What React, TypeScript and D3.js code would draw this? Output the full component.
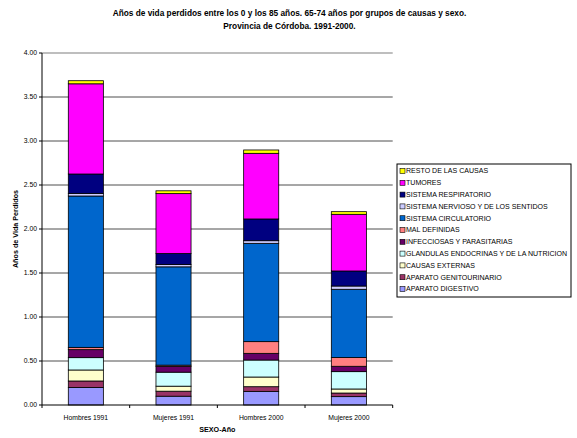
import React from 'react'
import * as d3 from 'd3'

// --- data ---
const categories = ['Hombres 1991', 'Mujeres 1991', 'Hombres 2000', 'Mujeres 2000']

// stacking order, bottom to top
const causes = [
  'APARATO DIGESTIVO',
  'APARATO GENITOURINARIO',
  'CAUSAS EXTERNAS',
  'GLANDULAS ENDOCRINAS Y DE LA NUTRICION',
  'INFECCIOSAS Y PARASITARIAS',
  'MAL DEFINIDAS',
  'SISTEMA CIRCULATORIO',
  'SISTEMA NERVIOSO Y DE LOS SENTIDOS',
  'SISTEMA RESPIRATORIO',
  'TUMORES',
  'RESTO DE LAS CAUSAS',
]

const colors = [
  '#9999FF', '#993366', '#FFFFCC', '#CCFFFF', '#660066', '#FF8080',
  '#0066CC', '#CCCCFF', '#000080', '#FF00FF', '#FFFF00',
]

const digestivo = [0.2, 0.1, 0.155, 0.095]
const genitourinario = [0.073, 0.057, 0.053, 0.041]
const externas = [0.125, 0.057, 0.11, 0.046]
const glandulas = [0.14, 0.159, 0.193, 0.197]
const infecciosas = [0.091, 0.065, 0.076, 0.061]
const malDefinidas = [0.026, 0.015, 0.133, 0.1]
const circulatorio = [1.72, 1.117, 1.117, 0.775]
const nervioso = [0.03, 0.026, 0.03, 0.037]
const respiratorio = [0.22, 0.126, 0.247, 0.171]
const tumores = [1.025, 0.68, 0.746, 0.644]
const resto = [0.035, 0.032, 0.038, 0.03]

const seriesValues = [
  digestivo, genitourinario, externas, glandulas, infecciosas, malDefinidas,
  circulatorio, nervioso, respiratorio, tumores, resto,
]

const yTicks = [0, 0.5, 1, 1.5, 2, 2.5, 3, 3.5, 4]

const FONT = '"Liberation Sans", Arial, sans-serif'

export default function App() {
  const plot = { left: 42, right: 392.7, top: 53, bottom: 405 }

  const x = d3.scaleBand<string>()
    .domain(categories)
    .range([plot.left, plot.right])
    .paddingInner(0.6)
    .paddingOuter(0.3)

  const y = d3.scaleLinear().domain([0, 4]).range([plot.bottom, plot.top])

  const rows = categories.map((c, i) => {
    const row: any = { cat: c }
    causes.forEach((k, j) => { row[k] = seriesValues[j][i] })
    return row
  })
  const stacked = d3.stack<any>().keys(causes)(rows)

  const step = (plot.right - plot.left) / categories.length

  const legend = { x: 397, y: 164, w: 174, h: 133, rowH: 11.8 }
  const legendItems = causes.map((c, i) => ({ name: c, color: colors[i] })).reverse()

  return (
    <div style={{ position: 'absolute', left: 0, top: 0 }}>
      <svg width={577} height={438} style={{ display: 'block', fontFamily: FONT }}>
        <rect width={577} height={438} fill="#fff" />

        <text x={289.5} y={13} dy="0.35em" textAnchor="middle" fontSize={8.3} fontWeight="bold">
          Años de vida perdidos entre los 0 y los 85 años. 65-74 años por grupos de causas y sexo.
        </text>
        <text x={289.5} y={26.5} dy="0.35em" textAnchor="middle" fontSize={8.3} fontWeight="bold">
          Provincia de Córdoba. 1991-2000.
        </text>

        {/* gridlines */}
        {yTicks.slice(1).map((t) => (
          <line key={t} x1={plot.left} x2={plot.right} y1={y(t)} y2={y(t)}
            stroke={t === 4 ? '#a8a8a8' : '#3a3a3a'} strokeWidth={t === 4 ? 1.3 : 0.9} />
        ))}

        {/* bars */}
        {stacked.map((s, j) => (
          <g key={s.key} fill={colors[j]}>
            {s.map((d, i) => (
              <rect key={i}
                x={x(categories[i])!}
                y={y(d[1])}
                width={x.bandwidth()}
                height={y(d[0]) - y(d[1])}
                stroke="#000" strokeWidth={0.8} />
            ))}
          </g>
        ))}

        {/* y axis */}
        <line x1={plot.left} x2={plot.left} y1={plot.top} y2={plot.bottom} stroke="#000" strokeWidth={1} />
        {yTicks.map((t) => (
          <g key={t}>
            <line x1={plot.left - 3} x2={plot.left} y1={y(t)} y2={y(t)} stroke="#000" />
            <text x={plot.left - 5} y={y(t)} dy="0.35em" textAnchor="end" fontSize={6.8}>
              {t.toFixed(2)}
            </text>
          </g>
        ))}
        <text transform={`translate(15,${(plot.top + plot.bottom) / 2}) rotate(-90)`}
          textAnchor="middle" dy="0.35em" fontSize={7.2} fontWeight="bold">
          Años de Vida Perdidos
        </text>

        {/* x axis */}
        <line x1={plot.left} x2={plot.right} y1={plot.bottom} y2={plot.bottom} stroke="#000" strokeWidth={1} />
        {d3.range(categories.length + 1).map((i) => (
          <line key={i} x1={plot.left + i * step} x2={plot.left + i * step}
            y1={plot.bottom} y2={plot.bottom + 3} stroke="#000" />
        ))}
        {categories.map((c) => (
          <text key={c} x={x(c)! + x.bandwidth() / 2} y={418} dy="0.35em" textAnchor="middle" fontSize={6.8}>
            {c}
          </text>
        ))}
        <text x={(plot.left + plot.right) / 2} y={429.5} dy="0.35em" textAnchor="middle" fontSize={7.2} fontWeight="bold">
          SEXO-Año
        </text>

        {/* legend */}
        <rect x={legend.x} y={legend.y} width={legend.w} height={legend.h} fill="#fff" stroke="#000" strokeWidth={1} />
        {legendItems.map((it, i) => {
          const cy = legend.y + 7 + i * legend.rowH
          return (
            <g key={it.name}>
              <rect x={legend.x + 3} y={cy - 2.5} width={5} height={5} fill={it.color} stroke="#000" strokeWidth={0.6} />
              <text x={legend.x + 9} y={cy} dy="0.35em" fontSize={7.05}>{it.name}</text>
            </g>
          )
        })}
      </svg>
    </div>
  )
}
